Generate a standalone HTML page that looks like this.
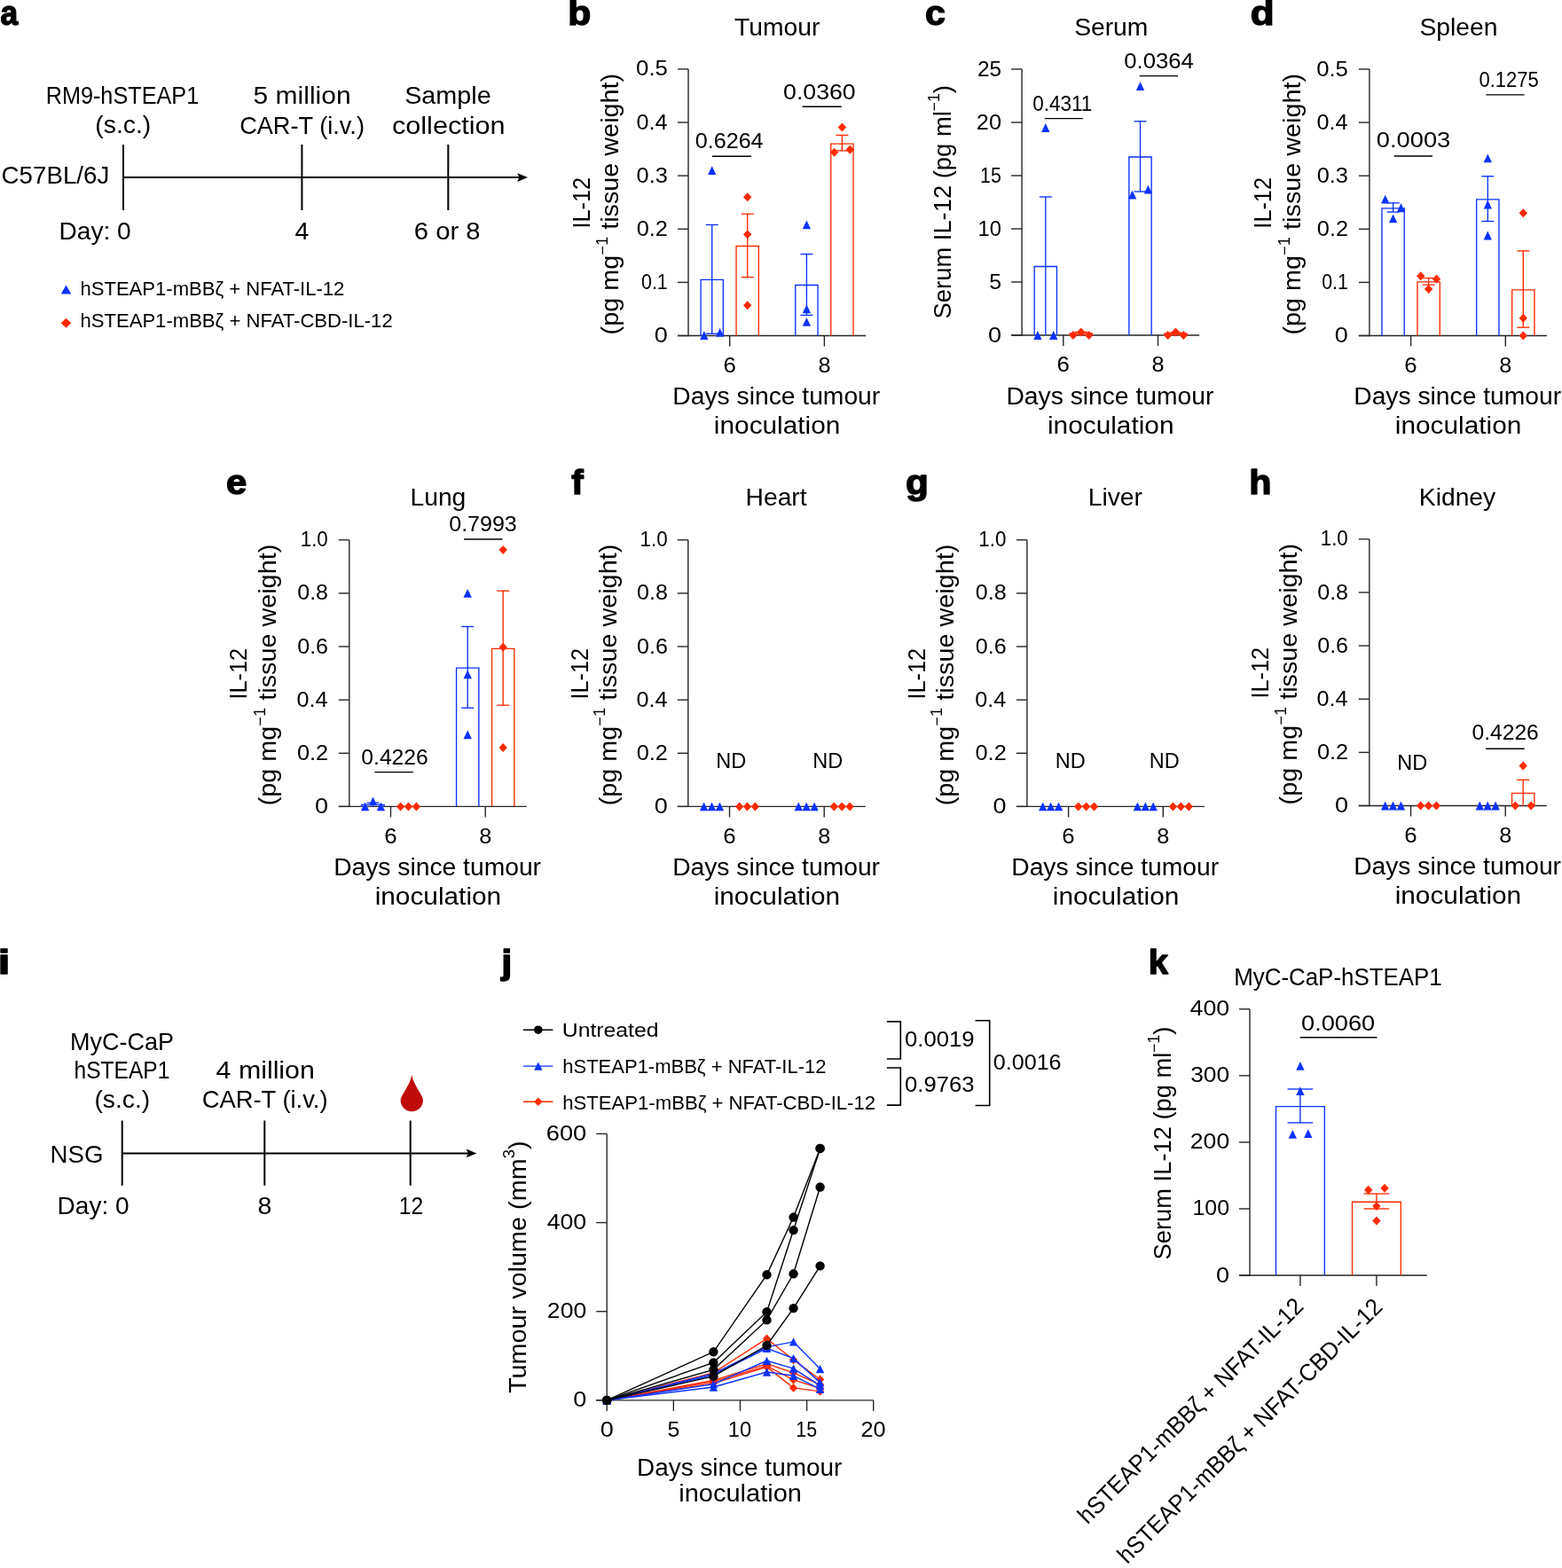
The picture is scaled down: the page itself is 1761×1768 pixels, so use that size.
<!DOCTYPE html>
<html><head><meta charset="utf-8"><style>
html,body{margin:0;padding:0;background:#fff;overflow:hidden;width:1761px;height:1768px;}
svg{display:block;font-family:'Liberation Sans', Arial, sans-serif;}
</style></head><body>
<svg width="1761" height="1768" viewBox="0 0 1761 1768">
<rect width="1761" height="1768" fill="#fff"/>
<text transform="translate(0.46,28.40) scale(0.9193,1)" font-size="38.5" font-weight="bold" fill="#000" stroke="#000" stroke-width="1.4" stroke-linejoin="round">a</text>
<text transform="translate(51.68,117.00) scale(0.8863,1)" font-size="28.5" fill="#000">RM9-hSTEAP1</text>
<text transform="translate(107.30,149.80) scale(0.9951,1)" font-size="28.5" fill="#000">(s.c.)</text>
<text transform="translate(285.60,117.40) scale(1.0521,1)" font-size="28.5" fill="#000">5 million</text>
<text transform="translate(270.14,150.50) scale(0.9534,1)" font-size="28.5" fill="#000">CAR-T (i.v.)</text>
<text transform="translate(456.21,117.40) scale(1.0086,1)" font-size="28.5" fill="#000">Sample</text>
<text transform="translate(441.97,150.50) scale(1.0750,1)" font-size="28.5" fill="#000">collection</text>
<text transform="translate(1.61,207.00) scale(0.9721,1)" font-size="28.5" fill="#000">C57BL/6J</text>
<text transform="translate(66.45,269.60) scale(0.9875,1)" font-size="28.5" fill="#000">Day: 0</text>
<text transform="translate(332.56,269.70) scale(1.0000,1)" font-size="28.5" fill="#000">4</text>
<text transform="translate(466.84,269.70) scale(1.0249,1)" font-size="28.5" fill="#000">6 or 8</text>
<line x1="139.00" y1="200.10" x2="586.00" y2="200.10" stroke="#000" stroke-width="2.0"/>
<polygon points="595.00,200.10 583.20,195.20 585.40,200.10 583.20,205.00" fill="#000"/>
<line x1="139.00" y1="163.00" x2="139.00" y2="237.00" stroke="#000" stroke-width="2.0"/>
<line x1="340.40" y1="163.00" x2="340.40" y2="237.00" stroke="#000" stroke-width="2.0"/>
<line x1="505.30" y1="163.00" x2="505.30" y2="237.00" stroke="#000" stroke-width="2.0"/>
<polygon points="68.75,331.40 80.25,331.40 74.50,321.40" fill="#0a32ff"/>
<text transform="translate(90.47,332.60) scale(1.0031,1)" font-size="22.0" fill="#000">hSTEAP1-mBBζ + NFAT-IL-12</text>
<polygon points="68.75,364.20 74.50,358.70 80.25,364.20 74.50,369.70" fill="#ff2a00"/>
<text transform="translate(90.46,369.40) scale(1.0040,1)" font-size="22.0" fill="#000">hSTEAP1-mBBζ + NFAT-CBD-IL-12</text>
<line x1="776.00" y1="77.90" x2="776.00" y2="379.20" stroke="#262626" stroke-width="1.4"/>
<line x1="764.00" y1="378.50" x2="776.00" y2="378.50" stroke="#262626" stroke-width="1.4"/>
<line x1="764.00" y1="318.38" x2="776.00" y2="318.38" stroke="#262626" stroke-width="1.4"/>
<line x1="764.00" y1="258.26" x2="776.00" y2="258.26" stroke="#262626" stroke-width="1.4"/>
<line x1="764.00" y1="198.14" x2="776.00" y2="198.14" stroke="#262626" stroke-width="1.4"/>
<line x1="764.00" y1="138.02" x2="776.00" y2="138.02" stroke="#262626" stroke-width="1.4"/>
<line x1="764.00" y1="77.90" x2="776.00" y2="77.90" stroke="#262626" stroke-width="1.4"/>
<line x1="764.00" y1="378.50" x2="976.00" y2="378.50" stroke="#262626" stroke-width="1.4"/>
<line x1="822.70" y1="378.50" x2="822.70" y2="390.50" stroke="#262626" stroke-width="1.4"/>
<line x1="929.40" y1="378.50" x2="929.40" y2="390.50" stroke="#262626" stroke-width="1.4"/>
<path d="M790.05,378.50 V315.37 H815.35 V378.50" fill="none" stroke="#0a32ff" stroke-width="1.35"/>
<line x1="802.70" y1="376.28" x2="802.70" y2="253.45" stroke="#0a32ff" stroke-width="1.35"/>
<line x1="795.70" y1="253.45" x2="809.70" y2="253.45" stroke="#0a32ff" stroke-width="1.35"/>
<line x1="795.70" y1="376.28" x2="809.70" y2="376.28" stroke="#0a32ff" stroke-width="1.35"/>
<polygon points="789.10,383.10 798.50,383.10 793.80,373.30" fill="#0a32ff"/>
<polygon points="798.00,197.03 807.40,197.03 802.70,187.23" fill="#0a32ff"/>
<polygon points="806.90,379.79 816.30,379.79 811.60,369.99" fill="#0a32ff"/>
<path d="M830.05,378.50 V277.50 H855.35 V378.50" fill="none" stroke="#ff2a00" stroke-width="1.35"/>
<line x1="842.70" y1="312.55" x2="842.70" y2="241.19" stroke="#ff2a00" stroke-width="1.35"/>
<line x1="835.70" y1="241.19" x2="849.70" y2="241.19" stroke="#ff2a00" stroke-width="1.35"/>
<line x1="835.70" y1="312.55" x2="849.70" y2="312.55" stroke="#ff2a00" stroke-width="1.35"/>
<polygon points="838.00,222.19 842.70,217.19 847.40,222.19 842.70,227.19" fill="#ff2a00"/>
<polygon points="838.00,264.27 842.70,259.27 847.40,264.27 842.70,269.27" fill="#ff2a00"/>
<polygon points="838.00,344.23 842.70,339.23 847.40,344.23 842.70,349.23" fill="#ff2a00"/>
<path d="M896.75,378.50 V321.45 H922.05 V378.50" fill="none" stroke="#0a32ff" stroke-width="1.35"/>
<line x1="909.40" y1="355.41" x2="909.40" y2="286.52" stroke="#0a32ff" stroke-width="1.35"/>
<line x1="902.40" y1="286.52" x2="916.40" y2="286.52" stroke="#0a32ff" stroke-width="1.35"/>
<line x1="902.40" y1="355.41" x2="916.40" y2="355.41" stroke="#0a32ff" stroke-width="1.35"/>
<polygon points="904.70,258.35 914.10,258.35 909.40,248.55" fill="#0a32ff"/>
<polygon points="904.70,353.34 914.10,353.34 909.40,343.54" fill="#0a32ff"/>
<polygon points="904.70,367.77 914.10,367.77 909.40,357.97" fill="#0a32ff"/>
<path d="M936.75,378.50 V162.07 H962.05 V378.50" fill="none" stroke="#ff2a00" stroke-width="1.35"/>
<line x1="949.40" y1="169.88" x2="949.40" y2="152.45" stroke="#ff2a00" stroke-width="1.35"/>
<line x1="942.40" y1="152.45" x2="956.40" y2="152.45" stroke="#ff2a00" stroke-width="1.35"/>
<line x1="942.40" y1="169.88" x2="956.40" y2="169.88" stroke="#ff2a00" stroke-width="1.35"/>
<polygon points="944.70,143.43 949.40,138.43 954.10,143.43 949.40,148.43" fill="#ff2a00"/>
<polygon points="935.80,171.69 940.50,166.69 945.20,171.69 940.50,176.69" fill="#ff2a00"/>
<polygon points="953.60,168.68 958.30,163.68 963.00,168.68 958.30,173.68" fill="#ff2a00"/>
<text transform="translate(737.75,386.00) scale(1.1494,1)" font-size="23.5" fill="#000">0</text>
<text transform="translate(723.05,325.88) scale(0.9095,1)" font-size="23.5" fill="#000">0.1</text>
<text transform="translate(717.71,265.76) scale(1.0784,1)" font-size="23.5" fill="#000">0.2</text>
<text transform="translate(717.61,205.64) scale(1.0776,1)" font-size="23.5" fill="#000">0.3</text>
<text transform="translate(717.42,145.52) scale(1.0718,1)" font-size="23.5" fill="#000">0.4</text>
<text transform="translate(717.10,85.40) scale(1.0938,1)" font-size="23.5" fill="#000">0.5</text>
<text transform="translate(815.41,419.70) scale(1.0981,1)" font-size="23.5" fill="#000">6</text>
<text transform="translate(922.39,419.70) scale(1.0750,1)" font-size="23.5" fill="#000">8</text>
<text transform="translate(758.34,456.20) scale(1.0354,1)" font-size="27.3" fill="#000">Days since tumour</text>
<text transform="translate(804.86,489.10) scale(1.0922,1)" font-size="27.3" fill="#000">inoculation</text>
<text transform="translate(828.11,40.00) scale(1.0100,1)" font-size="28.0" fill="#000">Tumour</text>
<text transform="translate(783.72,167.00) scale(1.0695,1)" font-size="23.5" fill="#000">0.6264</text>
<line x1="803.00" y1="176.20" x2="847.00" y2="176.20" stroke="#000" stroke-width="1.4"/>
<text transform="translate(883.07,112.00) scale(1.1357,1)" font-size="23.5" fill="#000">0.0360</text>
<line x1="904.60" y1="120.30" x2="948.80" y2="120.30" stroke="#000" stroke-width="1.4"/>
<text transform="translate(665.00,255.30) rotate(-90) scale(0.9256,1) translate(-2.46,0)" fill="#000"><tspan font-size="27.3" dy="0.00">IL-12</tspan></text>
<text transform="translate(697.10,375.70) rotate(-90) scale(1.0547,1) translate(-1.64,0)" fill="#000"><tspan font-size="27.3" dy="0.00">(pg mg</tspan><tspan font-size="17.47" dy="-12.56">−1</tspan><tspan font-size="27.3" dy="12.56"> tissue weight)</tspan></text>
<line x1="1152.10" y1="78.00" x2="1152.10" y2="378.70" stroke="#262626" stroke-width="1.4"/>
<line x1="1140.10" y1="378.00" x2="1152.10" y2="378.00" stroke="#262626" stroke-width="1.4"/>
<line x1="1140.10" y1="318.00" x2="1152.10" y2="318.00" stroke="#262626" stroke-width="1.4"/>
<line x1="1140.10" y1="258.00" x2="1152.10" y2="258.00" stroke="#262626" stroke-width="1.4"/>
<line x1="1140.10" y1="198.00" x2="1152.10" y2="198.00" stroke="#262626" stroke-width="1.4"/>
<line x1="1140.10" y1="138.00" x2="1152.10" y2="138.00" stroke="#262626" stroke-width="1.4"/>
<line x1="1140.10" y1="78.00" x2="1152.10" y2="78.00" stroke="#262626" stroke-width="1.4"/>
<line x1="1140.10" y1="378.00" x2="1352.10" y2="378.00" stroke="#262626" stroke-width="1.4"/>
<line x1="1198.80" y1="378.00" x2="1198.80" y2="390.00" stroke="#262626" stroke-width="1.4"/>
<line x1="1305.50" y1="378.00" x2="1305.50" y2="390.00" stroke="#262626" stroke-width="1.4"/>
<path d="M1166.15,378.00 V300.48 H1191.45 V378.00" fill="none" stroke="#0a32ff" stroke-width="1.35"/>
<line x1="1178.80" y1="378.00" x2="1178.80" y2="222.00" stroke="#0a32ff" stroke-width="1.35"/>
<line x1="1171.80" y1="222.00" x2="1185.80" y2="222.00" stroke="#0a32ff" stroke-width="1.35"/>
<polygon points="1165.20,382.90 1174.60,382.90 1169.90,373.10" fill="#0a32ff"/>
<polygon points="1174.10,148.90 1183.50,148.90 1178.80,139.10" fill="#0a32ff"/>
<polygon points="1183.00,382.90 1192.40,382.90 1187.70,373.10" fill="#0a32ff"/>
<path d="M1206.15,378.00 V375.84 H1231.45 V378.00" fill="none" stroke="#ff2a00" stroke-width="1.35"/>
<line x1="1218.80" y1="377.40" x2="1218.80" y2="374.40" stroke="#ff2a00" stroke-width="1.35"/>
<line x1="1211.80" y1="374.40" x2="1225.80" y2="374.40" stroke="#ff2a00" stroke-width="1.35"/>
<line x1="1211.80" y1="377.40" x2="1225.80" y2="377.40" stroke="#ff2a00" stroke-width="1.35"/>
<polygon points="1205.20,378.00 1209.90,373.00 1214.60,378.00 1209.90,383.00" fill="#ff2a00"/>
<polygon points="1214.10,374.40 1218.80,369.40 1223.50,374.40 1218.80,379.40" fill="#ff2a00"/>
<polygon points="1223.00,378.00 1227.70,373.00 1232.40,378.00 1227.70,383.00" fill="#ff2a00"/>
<path d="M1272.85,378.00 V177.00 H1298.15 V378.00" fill="none" stroke="#0a32ff" stroke-width="1.35"/>
<line x1="1285.50" y1="216.00" x2="1285.50" y2="136.80" stroke="#0a32ff" stroke-width="1.35"/>
<line x1="1278.50" y1="136.80" x2="1292.50" y2="136.80" stroke="#0a32ff" stroke-width="1.35"/>
<line x1="1278.50" y1="216.00" x2="1292.50" y2="216.00" stroke="#0a32ff" stroke-width="1.35"/>
<polygon points="1271.90,224.50 1281.30,224.50 1276.60,214.70" fill="#0a32ff"/>
<polygon points="1280.80,102.10 1290.20,102.10 1285.50,92.30" fill="#0a32ff"/>
<polygon points="1289.70,218.50 1299.10,218.50 1294.40,208.70" fill="#0a32ff"/>
<path d="M1312.85,378.00 V376.20 H1338.15 V378.00" fill="none" stroke="#ff2a00" stroke-width="1.35"/>
<line x1="1325.50" y1="377.40" x2="1325.50" y2="375.00" stroke="#ff2a00" stroke-width="1.35"/>
<line x1="1318.50" y1="375.00" x2="1332.50" y2="375.00" stroke="#ff2a00" stroke-width="1.35"/>
<line x1="1318.50" y1="377.40" x2="1332.50" y2="377.40" stroke="#ff2a00" stroke-width="1.35"/>
<polygon points="1311.90,378.00 1316.60,373.00 1321.30,378.00 1316.60,383.00" fill="#ff2a00"/>
<polygon points="1320.80,374.40 1325.50,369.40 1330.20,374.40 1325.50,379.40" fill="#ff2a00"/>
<polygon points="1329.70,378.00 1334.40,373.00 1339.10,378.00 1334.40,383.00" fill="#ff2a00"/>
<text transform="translate(1113.95,385.50) scale(1.1494,1)" font-size="23.5" fill="#000">0</text>
<text transform="translate(1115.21,325.50) scale(1.0571,1)" font-size="23.5" fill="#000">5</text>
<text transform="translate(1102.52,265.50) scale(1.0085,1)" font-size="23.5" fill="#000">10</text>
<text transform="translate(1105.09,205.50) scale(0.9109,1)" font-size="23.5" fill="#000">15</text>
<text transform="translate(1100.84,145.50) scale(1.0752,1)" font-size="23.5" fill="#000">20</text>
<text transform="translate(1101.98,85.50) scale(1.0346,1)" font-size="23.5" fill="#000">25</text>
<text transform="translate(1191.51,419.20) scale(1.0981,1)" font-size="23.5" fill="#000">6</text>
<text transform="translate(1298.49,419.20) scale(1.0750,1)" font-size="23.5" fill="#000">8</text>
<text transform="translate(1134.44,455.70) scale(1.0354,1)" font-size="27.3" fill="#000">Days since tumour</text>
<text transform="translate(1180.96,488.60) scale(1.0922,1)" font-size="27.3" fill="#000">inoculation</text>
<text transform="translate(1211.14,40.00) scale(1.0100,1)" font-size="28.0" fill="#000">Serum</text>
<text transform="translate(1164.21,125.00) scale(0.9580,1)" font-size="23.5" fill="#000">0.4311</text>
<line x1="1177.70" y1="133.60" x2="1220.80" y2="133.60" stroke="#000" stroke-width="1.4"/>
<text transform="translate(1267.30,77.00) scale(1.0936,1)" font-size="23.5" fill="#000">0.0364</text>
<line x1="1284.80" y1="85.60" x2="1328.00" y2="85.60" stroke="#000" stroke-width="1.4"/>
<text transform="translate(1071.80,358.20) rotate(-90) scale(1.0029,1) translate(-1.23,0)" fill="#000"><tspan font-size="27.3" dy="0.00">Serum IL-12 (pg ml</tspan><tspan font-size="17.47" dy="-12.56">−1</tspan><tspan font-size="27.3" dy="12.56">)</tspan></text>
<line x1="1543.90" y1="78.00" x2="1543.90" y2="379.20" stroke="#262626" stroke-width="1.4"/>
<line x1="1531.90" y1="378.50" x2="1543.90" y2="378.50" stroke="#262626" stroke-width="1.4"/>
<line x1="1531.90" y1="318.40" x2="1543.90" y2="318.40" stroke="#262626" stroke-width="1.4"/>
<line x1="1531.90" y1="258.30" x2="1543.90" y2="258.30" stroke="#262626" stroke-width="1.4"/>
<line x1="1531.90" y1="198.20" x2="1543.90" y2="198.20" stroke="#262626" stroke-width="1.4"/>
<line x1="1531.90" y1="138.10" x2="1543.90" y2="138.10" stroke="#262626" stroke-width="1.4"/>
<line x1="1531.90" y1="78.00" x2="1543.90" y2="78.00" stroke="#262626" stroke-width="1.4"/>
<line x1="1531.90" y1="378.50" x2="1743.90" y2="378.50" stroke="#262626" stroke-width="1.4"/>
<line x1="1590.60" y1="378.50" x2="1590.60" y2="390.50" stroke="#262626" stroke-width="1.4"/>
<line x1="1697.30" y1="378.50" x2="1697.30" y2="390.50" stroke="#262626" stroke-width="1.4"/>
<path d="M1557.95,378.50 V234.86 H1583.25 V378.50" fill="none" stroke="#0a32ff" stroke-width="1.35"/>
<line x1="1570.60" y1="239.07" x2="1570.60" y2="228.85" stroke="#0a32ff" stroke-width="1.35"/>
<line x1="1563.60" y1="228.85" x2="1577.60" y2="228.85" stroke="#0a32ff" stroke-width="1.35"/>
<line x1="1563.60" y1="239.07" x2="1577.60" y2="239.07" stroke="#0a32ff" stroke-width="1.35"/>
<polygon points="1557.00,229.54 1566.40,229.54 1561.70,219.74" fill="#0a32ff"/>
<polygon points="1565.90,251.18 1575.30,251.18 1570.60,241.38" fill="#0a32ff"/>
<polygon points="1574.80,239.16 1584.20,239.16 1579.50,229.36" fill="#0a32ff"/>
<path d="M1597.95,378.50 V317.80 H1623.25 V378.50" fill="none" stroke="#ff2a00" stroke-width="1.35"/>
<line x1="1610.60" y1="321.10" x2="1610.60" y2="313.59" stroke="#ff2a00" stroke-width="1.35"/>
<line x1="1603.60" y1="313.59" x2="1617.60" y2="313.59" stroke="#ff2a00" stroke-width="1.35"/>
<line x1="1603.60" y1="321.10" x2="1617.60" y2="321.10" stroke="#ff2a00" stroke-width="1.35"/>
<polygon points="1597.00,311.19 1601.70,306.19 1606.40,311.19 1601.70,316.19" fill="#ff2a00"/>
<polygon points="1605.90,325.97 1610.60,320.97 1615.30,325.97 1610.60,330.97" fill="#ff2a00"/>
<polygon points="1614.80,314.79 1619.50,309.79 1624.20,314.79 1619.50,319.79" fill="#ff2a00"/>
<path d="M1664.65,378.50 V224.88 H1689.95 V378.50" fill="none" stroke="#0a32ff" stroke-width="1.35"/>
<line x1="1677.30" y1="249.53" x2="1677.30" y2="198.80" stroke="#0a32ff" stroke-width="1.35"/>
<line x1="1670.30" y1="198.80" x2="1684.30" y2="198.80" stroke="#0a32ff" stroke-width="1.35"/>
<line x1="1670.30" y1="249.53" x2="1684.30" y2="249.53" stroke="#0a32ff" stroke-width="1.35"/>
<polygon points="1672.60,183.27 1682.00,183.27 1677.30,173.47" fill="#0a32ff"/>
<polygon points="1672.60,235.55 1682.00,235.55 1677.30,225.75" fill="#0a32ff"/>
<polygon points="1672.60,270.41 1682.00,270.41 1677.30,260.61" fill="#0a32ff"/>
<path d="M1704.65,378.50 V326.81 H1729.95 V378.50" fill="none" stroke="#ff2a00" stroke-width="1.35"/>
<line x1="1717.30" y1="369.18" x2="1717.30" y2="282.94" stroke="#ff2a00" stroke-width="1.35"/>
<line x1="1710.30" y1="282.94" x2="1724.30" y2="282.94" stroke="#ff2a00" stroke-width="1.35"/>
<line x1="1710.30" y1="369.18" x2="1724.30" y2="369.18" stroke="#ff2a00" stroke-width="1.35"/>
<polygon points="1712.60,240.27 1717.30,235.27 1722.00,240.27 1717.30,245.27" fill="#ff2a00"/>
<polygon points="1712.60,358.67 1717.30,353.67 1722.00,358.67 1717.30,363.67" fill="#ff2a00"/>
<polygon points="1712.60,378.50 1717.30,373.50 1722.00,378.50 1717.30,383.50" fill="#ff2a00"/>
<text transform="translate(1504.85,386.00) scale(1.1494,1)" font-size="23.5" fill="#000">0</text>
<text transform="translate(1490.15,325.90) scale(0.9095,1)" font-size="23.5" fill="#000">0.1</text>
<text transform="translate(1484.81,265.80) scale(1.0784,1)" font-size="23.5" fill="#000">0.2</text>
<text transform="translate(1484.71,205.70) scale(1.0776,1)" font-size="23.5" fill="#000">0.3</text>
<text transform="translate(1484.52,145.60) scale(1.0718,1)" font-size="23.5" fill="#000">0.4</text>
<text transform="translate(1484.20,85.50) scale(1.0938,1)" font-size="23.5" fill="#000">0.5</text>
<text transform="translate(1583.31,419.70) scale(1.0981,1)" font-size="23.5" fill="#000">6</text>
<text transform="translate(1690.29,419.70) scale(1.0750,1)" font-size="23.5" fill="#000">8</text>
<text transform="translate(1526.24,456.20) scale(1.0354,1)" font-size="27.3" fill="#000">Days since tumour</text>
<text transform="translate(1572.76,489.10) scale(1.0922,1)" font-size="27.3" fill="#000">inoculation</text>
<text transform="translate(1600.47,40.00) scale(1.0100,1)" font-size="28.0" fill="#000">Spleen</text>
<text transform="translate(1551.85,166.30) scale(1.1604,1)" font-size="23.5" fill="#000">0.0003</text>
<line x1="1571.70" y1="176.00" x2="1615.00" y2="176.00" stroke="#000" stroke-width="1.4"/>
<text transform="translate(1667.43,97.60) scale(0.9352,1)" font-size="23.5" fill="#000">0.1275</text>
<line x1="1675.20" y1="106.90" x2="1718.50" y2="106.90" stroke="#000" stroke-width="1.4"/>
<text transform="translate(1433.00,255.35) rotate(-90) scale(0.9256,1) translate(-2.46,0)" fill="#000"><tspan font-size="27.3" dy="0.00">IL-12</tspan></text>
<text transform="translate(1466.20,375.75) rotate(-90) scale(1.0547,1) translate(-1.64,0)" fill="#000"><tspan font-size="27.3" dy="0.00">(pg mg</tspan><tspan font-size="17.47" dy="-12.56">−1</tspan><tspan font-size="27.3" dy="12.56"> tissue weight)</tspan></text>
<line x1="393.80" y1="608.80" x2="393.80" y2="910.10" stroke="#262626" stroke-width="1.4"/>
<line x1="381.80" y1="909.40" x2="393.80" y2="909.40" stroke="#262626" stroke-width="1.4"/>
<line x1="381.80" y1="849.28" x2="393.80" y2="849.28" stroke="#262626" stroke-width="1.4"/>
<line x1="381.80" y1="789.16" x2="393.80" y2="789.16" stroke="#262626" stroke-width="1.4"/>
<line x1="381.80" y1="729.04" x2="393.80" y2="729.04" stroke="#262626" stroke-width="1.4"/>
<line x1="381.80" y1="668.92" x2="393.80" y2="668.92" stroke="#262626" stroke-width="1.4"/>
<line x1="381.80" y1="608.80" x2="393.80" y2="608.80" stroke="#262626" stroke-width="1.4"/>
<line x1="381.80" y1="909.40" x2="593.80" y2="909.40" stroke="#262626" stroke-width="1.4"/>
<line x1="440.50" y1="909.40" x2="440.50" y2="921.40" stroke="#262626" stroke-width="1.4"/>
<line x1="547.20" y1="909.40" x2="547.20" y2="921.40" stroke="#262626" stroke-width="1.4"/>
<path d="M407.85,909.40 V907.30 H433.15 V909.40" fill="none" stroke="#0a32ff" stroke-width="1.35"/>
<line x1="420.50" y1="909.40" x2="420.50" y2="905.19" stroke="#0a32ff" stroke-width="1.35"/>
<line x1="413.50" y1="905.19" x2="427.50" y2="905.19" stroke="#0a32ff" stroke-width="1.35"/>
<polygon points="406.90,914.30 416.30,914.30 411.60,904.50" fill="#0a32ff"/>
<polygon points="415.80,908.29 425.20,908.29 420.50,898.49" fill="#0a32ff"/>
<polygon points="424.70,914.30 434.10,914.30 429.40,904.50" fill="#0a32ff"/>
<polygon points="446.90,909.40 451.60,904.40 456.30,909.40 451.60,914.40" fill="#ff2a00"/>
<polygon points="455.80,909.40 460.50,904.40 465.20,909.40 460.50,914.40" fill="#ff2a00"/>
<polygon points="464.70,909.40 469.40,904.40 474.10,909.40 469.40,914.40" fill="#ff2a00"/>
<path d="M514.55,909.40 V753.09 H539.85 V909.40" fill="none" stroke="#0a32ff" stroke-width="1.35"/>
<line x1="527.20" y1="798.18" x2="527.20" y2="706.49" stroke="#0a32ff" stroke-width="1.35"/>
<line x1="520.20" y1="706.49" x2="534.20" y2="706.49" stroke="#0a32ff" stroke-width="1.35"/>
<line x1="520.20" y1="798.18" x2="534.20" y2="798.18" stroke="#0a32ff" stroke-width="1.35"/>
<polygon points="522.50,673.82 531.90,673.82 527.20,664.02" fill="#0a32ff"/>
<polygon points="522.50,765.20 531.90,765.20 527.20,755.40" fill="#0a32ff"/>
<polygon points="522.50,833.14 531.90,833.14 527.20,823.34" fill="#0a32ff"/>
<path d="M554.55,909.40 V731.44 H579.85 V909.40" fill="none" stroke="#ff2a00" stroke-width="1.35"/>
<line x1="567.20" y1="795.17" x2="567.20" y2="666.21" stroke="#ff2a00" stroke-width="1.35"/>
<line x1="560.20" y1="666.21" x2="574.20" y2="666.21" stroke="#ff2a00" stroke-width="1.35"/>
<line x1="560.20" y1="795.17" x2="574.20" y2="795.17" stroke="#ff2a00" stroke-width="1.35"/>
<polygon points="562.50,619.92 567.20,614.92 571.90,619.92 567.20,624.92" fill="#ff2a00"/>
<polygon points="562.50,729.64 567.20,724.64 571.90,729.64 567.20,734.64" fill="#ff2a00"/>
<polygon points="562.50,842.97 567.20,837.97 571.90,842.97 567.20,847.97" fill="#ff2a00"/>
<text transform="translate(354.95,916.90) scale(1.1494,1)" font-size="23.5" fill="#000">0</text>
<text transform="translate(334.91,856.78) scale(1.0784,1)" font-size="23.5" fill="#000">0.2</text>
<text transform="translate(334.62,796.66) scale(1.0718,1)" font-size="23.5" fill="#000">0.4</text>
<text transform="translate(335.22,736.54) scale(1.0646,1)" font-size="23.5" fill="#000">0.6</text>
<text transform="translate(335.22,676.42) scale(1.0646,1)" font-size="23.5" fill="#000">0.8</text>
<text transform="translate(338.72,616.30) scale(0.9508,1)" font-size="23.5" fill="#000">1.0</text>
<text transform="translate(433.21,950.60) scale(1.0981,1)" font-size="23.5" fill="#000">6</text>
<text transform="translate(540.19,950.60) scale(1.0750,1)" font-size="23.5" fill="#000">8</text>
<text transform="translate(376.14,987.10) scale(1.0354,1)" font-size="27.3" fill="#000">Days since tumour</text>
<text transform="translate(422.66,1020.00) scale(1.0922,1)" font-size="27.3" fill="#000">inoculation</text>
<text transform="translate(462.46,569.90) scale(1.0100,1)" font-size="28.0" fill="#000">Lung</text>
<text transform="translate(407.34,861.60) scale(1.0492,1)" font-size="23.5" fill="#000">0.4226</text>
<line x1="422.40" y1="870.60" x2="465.90" y2="870.60" stroke="#000" stroke-width="1.4"/>
<text transform="translate(506.22,599.00) scale(1.0649,1)" font-size="23.5" fill="#000">0.7993</text>
<line x1="523.00" y1="608.00" x2="566.50" y2="608.00" stroke="#000" stroke-width="1.4"/>
<text transform="translate(277.70,786.20) rotate(-90) scale(0.9256,1) translate(-2.46,0)" fill="#000"><tspan font-size="27.3" dy="0.00">IL-12</tspan></text>
<text transform="translate(311.10,906.60) rotate(-90) scale(1.0547,1) translate(-1.64,0)" fill="#000"><tspan font-size="27.3" dy="0.00">(pg mg</tspan><tspan font-size="17.47" dy="-12.56">−1</tspan><tspan font-size="27.3" dy="12.56"> tissue weight)</tspan></text>
<line x1="775.80" y1="608.80" x2="775.80" y2="910.10" stroke="#262626" stroke-width="1.4"/>
<line x1="763.80" y1="909.40" x2="775.80" y2="909.40" stroke="#262626" stroke-width="1.4"/>
<line x1="763.80" y1="849.28" x2="775.80" y2="849.28" stroke="#262626" stroke-width="1.4"/>
<line x1="763.80" y1="789.16" x2="775.80" y2="789.16" stroke="#262626" stroke-width="1.4"/>
<line x1="763.80" y1="729.04" x2="775.80" y2="729.04" stroke="#262626" stroke-width="1.4"/>
<line x1="763.80" y1="668.92" x2="775.80" y2="668.92" stroke="#262626" stroke-width="1.4"/>
<line x1="763.80" y1="608.80" x2="775.80" y2="608.80" stroke="#262626" stroke-width="1.4"/>
<line x1="763.80" y1="909.40" x2="975.80" y2="909.40" stroke="#262626" stroke-width="1.4"/>
<line x1="822.50" y1="909.40" x2="822.50" y2="921.40" stroke="#262626" stroke-width="1.4"/>
<line x1="929.20" y1="909.40" x2="929.20" y2="921.40" stroke="#262626" stroke-width="1.4"/>
<polygon points="788.90,914.30 798.30,914.30 793.60,904.50" fill="#0a32ff"/>
<polygon points="797.80,914.30 807.20,914.30 802.50,904.50" fill="#0a32ff"/>
<polygon points="806.70,914.30 816.10,914.30 811.40,904.50" fill="#0a32ff"/>
<polygon points="828.90,909.40 833.60,904.40 838.30,909.40 833.60,914.40" fill="#ff2a00"/>
<polygon points="837.80,909.40 842.50,904.40 847.20,909.40 842.50,914.40" fill="#ff2a00"/>
<polygon points="846.70,909.40 851.40,904.40 856.10,909.40 851.40,914.40" fill="#ff2a00"/>
<polygon points="895.60,914.30 905.00,914.30 900.30,904.50" fill="#0a32ff"/>
<polygon points="904.50,914.30 913.90,914.30 909.20,904.50" fill="#0a32ff"/>
<polygon points="913.40,914.30 922.80,914.30 918.10,904.50" fill="#0a32ff"/>
<polygon points="935.60,909.40 940.30,904.40 945.00,909.40 940.30,914.40" fill="#ff2a00"/>
<polygon points="944.50,909.40 949.20,904.40 953.90,909.40 949.20,914.40" fill="#ff2a00"/>
<polygon points="953.40,909.40 958.10,904.40 962.80,909.40 958.10,914.40" fill="#ff2a00"/>
<text transform="translate(737.75,916.90) scale(1.1494,1)" font-size="23.5" fill="#000">0</text>
<text transform="translate(717.71,856.78) scale(1.0784,1)" font-size="23.5" fill="#000">0.2</text>
<text transform="translate(717.42,796.66) scale(1.0718,1)" font-size="23.5" fill="#000">0.4</text>
<text transform="translate(718.02,736.54) scale(1.0646,1)" font-size="23.5" fill="#000">0.6</text>
<text transform="translate(718.02,676.42) scale(1.0646,1)" font-size="23.5" fill="#000">0.8</text>
<text transform="translate(721.52,616.30) scale(0.9508,1)" font-size="23.5" fill="#000">1.0</text>
<text transform="translate(815.21,950.60) scale(1.0981,1)" font-size="23.5" fill="#000">6</text>
<text transform="translate(922.19,950.60) scale(1.0750,1)" font-size="23.5" fill="#000">8</text>
<text transform="translate(758.14,987.10) scale(1.0354,1)" font-size="27.3" fill="#000">Days since tumour</text>
<text transform="translate(804.66,1020.00) scale(1.0922,1)" font-size="27.3" fill="#000">inoculation</text>
<text transform="translate(840.50,569.90) scale(1.0100,1)" font-size="28.0" fill="#000">Heart</text>
<text transform="translate(807.37,865.60) scale(1.0000,1)" font-size="23.5" fill="#000">ND</text>
<text transform="translate(916.17,865.60) scale(1.0000,1)" font-size="23.5" fill="#000">ND</text>
<text transform="translate(662.90,786.20) rotate(-90) scale(0.9256,1) translate(-2.46,0)" fill="#000"><tspan font-size="27.3" dy="0.00">IL-12</tspan></text>
<text transform="translate(695.00,906.60) rotate(-90) scale(1.0547,1) translate(-1.64,0)" fill="#000"><tspan font-size="27.3" dy="0.00">(pg mg</tspan><tspan font-size="17.47" dy="-12.56">−1</tspan><tspan font-size="27.3" dy="12.56"> tissue weight)</tspan></text>
<line x1="1157.90" y1="608.80" x2="1157.90" y2="910.10" stroke="#262626" stroke-width="1.4"/>
<line x1="1145.90" y1="909.40" x2="1157.90" y2="909.40" stroke="#262626" stroke-width="1.4"/>
<line x1="1145.90" y1="849.28" x2="1157.90" y2="849.28" stroke="#262626" stroke-width="1.4"/>
<line x1="1145.90" y1="789.16" x2="1157.90" y2="789.16" stroke="#262626" stroke-width="1.4"/>
<line x1="1145.90" y1="729.04" x2="1157.90" y2="729.04" stroke="#262626" stroke-width="1.4"/>
<line x1="1145.90" y1="668.92" x2="1157.90" y2="668.92" stroke="#262626" stroke-width="1.4"/>
<line x1="1145.90" y1="608.80" x2="1157.90" y2="608.80" stroke="#262626" stroke-width="1.4"/>
<line x1="1145.90" y1="909.40" x2="1357.90" y2="909.40" stroke="#262626" stroke-width="1.4"/>
<line x1="1204.60" y1="909.40" x2="1204.60" y2="921.40" stroke="#262626" stroke-width="1.4"/>
<line x1="1311.30" y1="909.40" x2="1311.30" y2="921.40" stroke="#262626" stroke-width="1.4"/>
<polygon points="1171.00,914.30 1180.40,914.30 1175.70,904.50" fill="#0a32ff"/>
<polygon points="1179.90,914.30 1189.30,914.30 1184.60,904.50" fill="#0a32ff"/>
<polygon points="1188.80,914.30 1198.20,914.30 1193.50,904.50" fill="#0a32ff"/>
<polygon points="1211.00,909.40 1215.70,904.40 1220.40,909.40 1215.70,914.40" fill="#ff2a00"/>
<polygon points="1219.90,909.40 1224.60,904.40 1229.30,909.40 1224.60,914.40" fill="#ff2a00"/>
<polygon points="1228.80,909.40 1233.50,904.40 1238.20,909.40 1233.50,914.40" fill="#ff2a00"/>
<polygon points="1277.70,914.30 1287.10,914.30 1282.40,904.50" fill="#0a32ff"/>
<polygon points="1286.60,914.30 1296.00,914.30 1291.30,904.50" fill="#0a32ff"/>
<polygon points="1295.50,914.30 1304.90,914.30 1300.20,904.50" fill="#0a32ff"/>
<polygon points="1317.70,909.40 1322.40,904.40 1327.10,909.40 1322.40,914.40" fill="#ff2a00"/>
<polygon points="1326.60,909.40 1331.30,904.40 1336.00,909.40 1331.30,914.40" fill="#ff2a00"/>
<polygon points="1335.50,909.40 1340.20,904.40 1344.90,909.40 1340.20,914.40" fill="#ff2a00"/>
<text transform="translate(1119.55,916.90) scale(1.1494,1)" font-size="23.5" fill="#000">0</text>
<text transform="translate(1099.51,856.78) scale(1.0784,1)" font-size="23.5" fill="#000">0.2</text>
<text transform="translate(1099.22,796.66) scale(1.0718,1)" font-size="23.5" fill="#000">0.4</text>
<text transform="translate(1099.82,736.54) scale(1.0646,1)" font-size="23.5" fill="#000">0.6</text>
<text transform="translate(1099.82,676.42) scale(1.0646,1)" font-size="23.5" fill="#000">0.8</text>
<text transform="translate(1103.32,616.30) scale(0.9508,1)" font-size="23.5" fill="#000">1.0</text>
<text transform="translate(1197.31,950.60) scale(1.0981,1)" font-size="23.5" fill="#000">6</text>
<text transform="translate(1304.29,950.60) scale(1.0750,1)" font-size="23.5" fill="#000">8</text>
<text transform="translate(1140.24,987.10) scale(1.0354,1)" font-size="27.3" fill="#000">Days since tumour</text>
<text transform="translate(1186.76,1020.00) scale(1.0922,1)" font-size="27.3" fill="#000">inoculation</text>
<text transform="translate(1226.70,569.90) scale(1.0100,1)" font-size="28.0" fill="#000">Liver</text>
<text transform="translate(1189.67,865.60) scale(1.0000,1)" font-size="23.5" fill="#000">ND</text>
<text transform="translate(1295.67,865.60) scale(1.0000,1)" font-size="23.5" fill="#000">ND</text>
<text transform="translate(1042.70,786.20) rotate(-90) scale(0.9256,1) translate(-2.46,0)" fill="#000"><tspan font-size="27.3" dy="0.00">IL-12</tspan></text>
<text transform="translate(1075.00,906.60) rotate(-90) scale(1.0547,1) translate(-1.64,0)" fill="#000"><tspan font-size="27.3" dy="0.00">(pg mg</tspan><tspan font-size="17.47" dy="-12.56">−1</tspan><tspan font-size="27.3" dy="12.56"> tissue weight)</tspan></text>
<line x1="1543.80" y1="607.90" x2="1543.80" y2="909.20" stroke="#262626" stroke-width="1.4"/>
<line x1="1531.80" y1="908.50" x2="1543.80" y2="908.50" stroke="#262626" stroke-width="1.4"/>
<line x1="1531.80" y1="848.38" x2="1543.80" y2="848.38" stroke="#262626" stroke-width="1.4"/>
<line x1="1531.80" y1="788.26" x2="1543.80" y2="788.26" stroke="#262626" stroke-width="1.4"/>
<line x1="1531.80" y1="728.14" x2="1543.80" y2="728.14" stroke="#262626" stroke-width="1.4"/>
<line x1="1531.80" y1="668.02" x2="1543.80" y2="668.02" stroke="#262626" stroke-width="1.4"/>
<line x1="1531.80" y1="607.90" x2="1543.80" y2="607.90" stroke="#262626" stroke-width="1.4"/>
<line x1="1531.80" y1="908.50" x2="1743.80" y2="908.50" stroke="#262626" stroke-width="1.4"/>
<line x1="1590.50" y1="908.50" x2="1590.50" y2="920.50" stroke="#262626" stroke-width="1.4"/>
<line x1="1697.20" y1="908.50" x2="1697.20" y2="920.50" stroke="#262626" stroke-width="1.4"/>
<polygon points="1556.90,913.40 1566.30,913.40 1561.60,903.60" fill="#0a32ff"/>
<polygon points="1565.80,913.40 1575.20,913.40 1570.50,903.60" fill="#0a32ff"/>
<polygon points="1574.70,913.40 1584.10,913.40 1579.40,903.60" fill="#0a32ff"/>
<polygon points="1596.90,908.50 1601.60,903.50 1606.30,908.50 1601.60,913.50" fill="#ff2a00"/>
<polygon points="1605.80,908.50 1610.50,903.50 1615.20,908.50 1610.50,913.50" fill="#ff2a00"/>
<polygon points="1614.70,908.50 1619.40,903.50 1624.10,908.50 1619.40,913.50" fill="#ff2a00"/>
<polygon points="1663.60,913.40 1673.00,913.40 1668.30,903.60" fill="#0a32ff"/>
<polygon points="1672.50,913.40 1681.90,913.40 1677.20,903.60" fill="#0a32ff"/>
<polygon points="1681.40,913.40 1690.80,913.40 1686.10,903.60" fill="#0a32ff"/>
<path d="M1704.55,908.50 V894.37 H1729.85 V908.50" fill="none" stroke="#ff2a00" stroke-width="1.35"/>
<line x1="1717.20" y1="908.50" x2="1717.20" y2="879.34" stroke="#ff2a00" stroke-width="1.35"/>
<line x1="1710.20" y1="879.34" x2="1724.20" y2="879.34" stroke="#ff2a00" stroke-width="1.35"/>
<polygon points="1703.60,908.50 1708.30,903.50 1713.00,908.50 1708.30,913.50" fill="#ff2a00"/>
<polygon points="1712.50,863.41 1717.20,858.41 1721.90,863.41 1717.20,868.41" fill="#ff2a00"/>
<polygon points="1721.40,908.50 1726.10,903.50 1730.80,908.50 1726.10,913.50" fill="#ff2a00"/>
<text transform="translate(1504.95,916.00) scale(1.1494,1)" font-size="23.5" fill="#000">0</text>
<text transform="translate(1484.91,855.88) scale(1.0784,1)" font-size="23.5" fill="#000">0.2</text>
<text transform="translate(1484.62,795.76) scale(1.0718,1)" font-size="23.5" fill="#000">0.4</text>
<text transform="translate(1485.22,735.64) scale(1.0646,1)" font-size="23.5" fill="#000">0.6</text>
<text transform="translate(1485.22,675.52) scale(1.0646,1)" font-size="23.5" fill="#000">0.8</text>
<text transform="translate(1488.72,615.40) scale(0.9508,1)" font-size="23.5" fill="#000">1.0</text>
<text transform="translate(1583.21,949.70) scale(1.0981,1)" font-size="23.5" fill="#000">6</text>
<text transform="translate(1690.19,949.70) scale(1.0750,1)" font-size="23.5" fill="#000">8</text>
<text transform="translate(1526.14,986.20) scale(1.0354,1)" font-size="27.3" fill="#000">Days since tumour</text>
<text transform="translate(1572.66,1019.10) scale(1.0922,1)" font-size="27.3" fill="#000">inoculation</text>
<text transform="translate(1599.80,569.90) scale(1.0100,1)" font-size="28.0" fill="#000">Kidney</text>
<text transform="translate(1659.54,834.20) scale(1.0478,1)" font-size="23.5" fill="#000">0.4226</text>
<line x1="1675.00" y1="844.20" x2="1718.60" y2="844.20" stroke="#000" stroke-width="1.4"/>
<text transform="translate(1575.27,867.90) scale(1.0000,1)" font-size="23.5" fill="#000">ND</text>
<text transform="translate(1430.00,785.30) rotate(-90) scale(0.9256,1) translate(-2.46,0)" fill="#000"><tspan font-size="27.3" dy="0.00">IL-12</tspan></text>
<text transform="translate(1462.10,905.70) rotate(-90) scale(1.0547,1) translate(-1.64,0)" fill="#000"><tspan font-size="27.3" dy="0.00">(pg mg</tspan><tspan font-size="17.47" dy="-12.56">−1</tspan><tspan font-size="27.3" dy="12.56"> tissue weight)</tspan></text>
<text transform="translate(640.30,28.40) scale(1.1083,1)" font-size="38.5" font-weight="bold" fill="#000" stroke="#000" stroke-width="1.4" stroke-linejoin="round">b</text>
<text transform="translate(1042.91,28.10) scale(1.0656,1)" font-size="38.5" font-weight="bold" fill="#000" stroke="#000" stroke-width="1.4" stroke-linejoin="round">c</text>
<text transform="translate(1409.74,28.10) scale(1.1419,1)" font-size="38.5" font-weight="bold" fill="#000" stroke="#000" stroke-width="1.4" stroke-linejoin="round">d</text>
<text transform="translate(255.00,557.40) scale(1.0856,1)" font-size="38.5" font-weight="bold" fill="#000" stroke="#000" stroke-width="1.4" stroke-linejoin="round">e</text>
<text transform="translate(644.23,557.40) scale(1.0496,1)" font-size="38.5" font-weight="bold" fill="#000" stroke="#000" stroke-width="1.4" stroke-linejoin="round">f</text>
<text transform="translate(1020.88,557.40) scale(1.0987,1)" font-size="38.5" font-weight="bold" fill="#000" stroke="#000" stroke-width="1.4" stroke-linejoin="round">g</text>
<text transform="translate(1408.37,557.40) scale(1.0711,1)" font-size="38.5" font-weight="bold" fill="#000" stroke="#000" stroke-width="1.4" stroke-linejoin="round">h</text>
<text transform="translate(-2.30,1098.20) scale(1.2746,1)" font-size="38.5" font-weight="bold" fill="#000" stroke="#000" stroke-width="1.4" stroke-linejoin="round">i</text>
<text transform="translate(78.94,1184.00) scale(0.9482,1)" font-size="28.5" fill="#000">MyC-CaP</text>
<text transform="translate(83.61,1215.80) scale(0.8608,1)" font-size="28.5" fill="#000">hSTEAP1</text>
<text transform="translate(106.40,1248.60) scale(0.9918,1)" font-size="28.5" fill="#000">(s.c.)</text>
<text transform="translate(243.59,1215.80) scale(1.0649,1)" font-size="28.5" fill="#000">4 million</text>
<text transform="translate(227.63,1249.20) scale(0.9610,1)" font-size="28.5" fill="#000">CAR-T (i.v.)</text>
<text transform="translate(56.59,1311.20) scale(0.9699,1)" font-size="28.5" fill="#000">NSG</text>
<text transform="translate(64.55,1369.10) scale(0.9850,1)" font-size="28.5" fill="#000">Day: 0</text>
<text transform="translate(290.39,1369.10) scale(1.0000,1)" font-size="28.5" fill="#000">8</text>
<text transform="translate(449.75,1369.10) scale(0.8648,1)" font-size="28.5" fill="#000">12</text>
<line x1="137.70" y1="1300.40" x2="528.40" y2="1300.40" stroke="#000" stroke-width="2.0"/>
<polygon points="537.40,1300.40 525.60,1295.50 527.80,1300.40 525.60,1305.30" fill="#000"/>
<line x1="137.70" y1="1263.50" x2="137.70" y2="1336.70" stroke="#000" stroke-width="2.0"/>
<line x1="298.30" y1="1263.50" x2="298.30" y2="1336.70" stroke="#000" stroke-width="2.0"/>
<line x1="462.70" y1="1263.50" x2="462.70" y2="1336.70" stroke="#000" stroke-width="2.0"/>
<path d="M464.3,1212.0 C466.3,1224.0 477.0,1235.0 477.0,1240.5 A12.7,12.7 0 0 1 451.6,1240.5 C451.6,1235.0 462.3,1224.0 464.3,1212.0 Z" fill="#c00a0a"/>
<text transform="translate(565.16,1098.20) scale(1.1312,1)" font-size="38.5" font-weight="bold" fill="#000" stroke="#000" stroke-width="1.4" stroke-linejoin="round">j</text>
<line x1="589.80" y1="1161.20" x2="623.40" y2="1161.20" stroke="#000" stroke-width="1.4"/>
<circle cx="606.80" cy="1161.20" r="4.8" fill="#000"/>
<line x1="589.80" y1="1202.10" x2="623.40" y2="1202.10" stroke="#0a32ff" stroke-width="1.4"/>
<polygon points="602.10,1206.80 611.50,1206.80 606.80,1197.40" fill="#0a32ff"/>
<line x1="589.80" y1="1242.30" x2="623.40" y2="1242.30" stroke="#ff2a00" stroke-width="1.4"/>
<polygon points="602.10,1242.30 606.80,1237.60 611.50,1242.30 606.80,1247.00" fill="#ff2a00"/>
<text transform="translate(633.84,1169.30) scale(1.1249,1)" font-size="22.0" fill="#000">Untreated</text>
<text transform="translate(634.27,1209.80) scale(1.0000,1)" font-size="22.0" fill="#000">hSTEAP1-mBBζ + NFAT-IL-12</text>
<text transform="translate(634.26,1251.10) scale(1.0058,1)" font-size="22.0" fill="#000">hSTEAP1-mBBζ + NFAT-CBD-IL-12</text>
<polyline points="999.9,1151.9 1015.3,1151.9 1015.3,1194.0 999.9,1194.0" fill="none" stroke="#000" stroke-width="1.6"/>
<polyline points="999.9,1204.0 1015.3,1204.0 1015.3,1246.1 999.9,1246.1" fill="none" stroke="#000" stroke-width="1.6"/>
<polyline points="1099.5,1150.7 1115.7,1150.7 1115.7,1246.5 1099.5,1246.5" fill="none" stroke="#000" stroke-width="1.6"/>
<text transform="translate(1020.10,1179.70) scale(1.0924,1)" font-size="23.5" fill="#000">0.0019</text>
<text transform="translate(1020.10,1231.00) scale(1.0906,1)" font-size="23.5" fill="#000">0.9763</text>
<text transform="translate(1119.82,1206.00) scale(1.0678,1)" font-size="23.5" fill="#000">0.0016</text>
<line x1="684.20" y1="1278.40" x2="684.20" y2="1579.60" stroke="#262626" stroke-width="1.4"/>
<line x1="672.20" y1="1578.90" x2="684.20" y2="1578.90" stroke="#262626" stroke-width="1.4"/>
<text transform="translate(646.15,1586.40) scale(1.1494,1)" font-size="23.5" fill="#000">0</text>
<line x1="672.20" y1="1478.73" x2="684.20" y2="1478.73" stroke="#262626" stroke-width="1.4"/>
<text transform="translate(616.87,1486.23) scale(1.1312,1)" font-size="23.5" fill="#000">200</text>
<line x1="672.20" y1="1378.57" x2="684.20" y2="1378.57" stroke="#262626" stroke-width="1.4"/>
<text transform="translate(616.67,1386.07) scale(1.1365,1)" font-size="23.5" fill="#000">400</text>
<line x1="672.20" y1="1278.40" x2="684.20" y2="1278.40" stroke="#262626" stroke-width="1.4"/>
<text transform="translate(615.74,1285.90) scale(1.1608,1)" font-size="23.5" fill="#000">600</text>
<line x1="672.20" y1="1578.90" x2="984.70" y2="1578.90" stroke="#262626" stroke-width="1.4"/>
<line x1="684.20" y1="1578.90" x2="684.20" y2="1590.90" stroke="#262626" stroke-width="1.4"/>
<text transform="translate(676.70,1619.80) scale(1.1494,1)" font-size="23.5" fill="#000">0</text>
<line x1="759.33" y1="1578.90" x2="759.33" y2="1590.90" stroke="#262626" stroke-width="1.4"/>
<text transform="translate(752.43,1619.80) scale(1.0571,1)" font-size="23.5" fill="#000">5</text>
<line x1="834.45" y1="1578.90" x2="834.45" y2="1590.90" stroke="#262626" stroke-width="1.4"/>
<text transform="translate(820.82,1619.80) scale(1.0085,1)" font-size="23.5" fill="#000">10</text>
<line x1="909.58" y1="1578.90" x2="909.58" y2="1590.90" stroke="#262626" stroke-width="1.4"/>
<text transform="translate(897.32,1619.80) scale(0.9109,1)" font-size="23.5" fill="#000">15</text>
<line x1="984.70" y1="1578.90" x2="984.70" y2="1590.90" stroke="#262626" stroke-width="1.4"/>
<text transform="translate(970.49,1619.80) scale(1.0752,1)" font-size="23.5" fill="#000">20</text>
<polyline points="684.20,1578.90 804.40,1547.85 864.50,1509.48 894.55,1533.32 924.60,1555.51" fill="none" stroke="#ff2a00" stroke-width="1.4"/>
<polyline points="684.20,1578.90 804.40,1556.36 864.50,1537.83 894.55,1547.85 924.60,1561.37" fill="none" stroke="#ff2a00" stroke-width="1.4"/>
<polyline points="684.20,1578.90 804.40,1557.87 864.50,1540.19 894.55,1555.86 924.60,1565.38" fill="none" stroke="#ff2a00" stroke-width="1.4"/>
<polyline points="684.20,1578.90 804.40,1559.87 864.50,1541.34 894.55,1564.88 924.60,1568.88" fill="none" stroke="#ff2a00" stroke-width="1.4"/>
<polygon points="679.50,1578.90 684.20,1574.00 688.90,1578.90 684.20,1583.80" fill="#ff2a00"/>
<polygon points="799.70,1547.85 804.40,1542.95 809.10,1547.85 804.40,1552.75" fill="#ff2a00"/>
<polygon points="859.80,1509.48 864.50,1504.58 869.20,1509.48 864.50,1514.38" fill="#ff2a00"/>
<polygon points="889.85,1533.32 894.55,1528.42 899.25,1533.32 894.55,1538.22" fill="#ff2a00"/>
<polygon points="919.90,1555.51 924.60,1550.61 929.30,1555.51 924.60,1560.41" fill="#ff2a00"/>
<polygon points="679.50,1578.90 684.20,1574.00 688.90,1578.90 684.20,1583.80" fill="#ff2a00"/>
<polygon points="799.70,1556.36 804.40,1551.46 809.10,1556.36 804.40,1561.26" fill="#ff2a00"/>
<polygon points="859.80,1537.83 864.50,1532.93 869.20,1537.83 864.50,1542.73" fill="#ff2a00"/>
<polygon points="889.85,1547.85 894.55,1542.95 899.25,1547.85 894.55,1552.75" fill="#ff2a00"/>
<polygon points="919.90,1561.37 924.60,1556.47 929.30,1561.37 924.60,1566.27" fill="#ff2a00"/>
<polygon points="679.50,1578.90 684.20,1574.00 688.90,1578.90 684.20,1583.80" fill="#ff2a00"/>
<polygon points="799.70,1557.87 804.40,1552.96 809.10,1557.87 804.40,1562.77" fill="#ff2a00"/>
<polygon points="859.80,1540.19 864.50,1535.29 869.20,1540.19 864.50,1545.09" fill="#ff2a00"/>
<polygon points="889.85,1555.86 894.55,1550.96 899.25,1555.86 894.55,1560.76" fill="#ff2a00"/>
<polygon points="919.90,1565.38 924.60,1560.48 929.30,1565.38 924.60,1570.28" fill="#ff2a00"/>
<polygon points="679.50,1578.90 684.20,1574.00 688.90,1578.90 684.20,1583.80" fill="#ff2a00"/>
<polygon points="799.70,1559.87 804.40,1554.97 809.10,1559.87 804.40,1564.77" fill="#ff2a00"/>
<polygon points="859.80,1541.34 864.50,1536.44 869.20,1541.34 864.50,1546.24" fill="#ff2a00"/>
<polygon points="889.85,1564.88 894.55,1559.98 899.25,1564.88 894.55,1569.78" fill="#ff2a00"/>
<polygon points="919.90,1568.88 924.60,1563.98 929.30,1568.88 924.60,1573.78" fill="#ff2a00"/>
<polyline points="684.20,1578.90 804.40,1548.85 864.50,1518.80 894.55,1512.89 924.60,1543.59" fill="none" stroke="#0a32ff" stroke-width="1.4"/>
<polyline points="684.20,1578.90 804.40,1550.35 864.50,1520.30 894.55,1531.62 924.60,1558.87" fill="none" stroke="#0a32ff" stroke-width="1.4"/>
<polyline points="684.20,1578.90 804.40,1560.62 864.50,1534.33 894.55,1543.09 924.60,1562.37" fill="none" stroke="#0a32ff" stroke-width="1.4"/>
<polyline points="684.20,1578.90 804.40,1563.98 864.50,1547.00 894.55,1551.20 924.60,1566.38" fill="none" stroke="#0a32ff" stroke-width="1.4"/>
<polygon points="679.50,1583.60 688.90,1583.60 684.20,1574.20" fill="#0a32ff"/>
<polygon points="799.70,1553.55 809.10,1553.55 804.40,1544.15" fill="#0a32ff"/>
<polygon points="859.80,1523.50 869.20,1523.50 864.50,1514.10" fill="#0a32ff"/>
<polygon points="889.85,1517.59 899.25,1517.59 894.55,1508.19" fill="#0a32ff"/>
<polygon points="919.90,1548.29 929.30,1548.29 924.60,1538.89" fill="#0a32ff"/>
<polygon points="679.50,1583.60 688.90,1583.60 684.20,1574.20" fill="#0a32ff"/>
<polygon points="799.70,1555.05 809.10,1555.05 804.40,1545.65" fill="#0a32ff"/>
<polygon points="859.80,1525.00 869.20,1525.00 864.50,1515.60" fill="#0a32ff"/>
<polygon points="889.85,1536.32 899.25,1536.32 894.55,1526.92" fill="#0a32ff"/>
<polygon points="919.90,1563.57 929.30,1563.57 924.60,1554.17" fill="#0a32ff"/>
<polygon points="679.50,1583.60 688.90,1583.60 684.20,1574.20" fill="#0a32ff"/>
<polygon points="799.70,1565.32 809.10,1565.32 804.40,1555.92" fill="#0a32ff"/>
<polygon points="859.80,1539.03 869.20,1539.03 864.50,1529.63" fill="#0a32ff"/>
<polygon points="889.85,1547.79 899.25,1547.79 894.55,1538.39" fill="#0a32ff"/>
<polygon points="919.90,1567.07 929.30,1567.07 924.60,1557.67" fill="#0a32ff"/>
<polygon points="679.50,1583.60 688.90,1583.60 684.20,1574.20" fill="#0a32ff"/>
<polygon points="799.70,1568.68 809.10,1568.68 804.40,1559.28" fill="#0a32ff"/>
<polygon points="859.80,1551.70 869.20,1551.70 864.50,1542.30" fill="#0a32ff"/>
<polygon points="889.85,1555.90 899.25,1555.90 894.55,1546.50" fill="#0a32ff"/>
<polygon points="919.90,1571.08 929.30,1571.08 924.60,1561.68" fill="#0a32ff"/>
<polyline points="684.20,1578.90 804.40,1524.31 864.50,1437.31 894.55,1372.56 924.60,1294.93" fill="none" stroke="#000" stroke-width="1.4"/>
<polyline points="684.20,1578.90 804.40,1536.33 864.50,1479.23 894.55,1387.08 924.60,1294.93" fill="none" stroke="#000" stroke-width="1.4"/>
<polyline points="684.20,1578.90 804.40,1544.34 864.50,1488.40 894.55,1436.31 924.60,1338.50" fill="none" stroke="#000" stroke-width="1.4"/>
<polyline points="684.20,1578.90 804.40,1551.86 864.50,1517.00 894.55,1475.08 924.60,1427.40" fill="none" stroke="#000" stroke-width="1.4"/>
<circle cx="684.20" cy="1578.90" r="5.2" fill="#000"/>
<circle cx="804.40" cy="1524.31" r="5.2" fill="#000"/>
<circle cx="864.50" cy="1437.31" r="5.2" fill="#000"/>
<circle cx="894.55" cy="1372.56" r="5.2" fill="#000"/>
<circle cx="924.60" cy="1294.93" r="5.2" fill="#000"/>
<circle cx="684.20" cy="1578.90" r="5.2" fill="#000"/>
<circle cx="804.40" cy="1536.33" r="5.2" fill="#000"/>
<circle cx="864.50" cy="1479.23" r="5.2" fill="#000"/>
<circle cx="894.55" cy="1387.08" r="5.2" fill="#000"/>
<circle cx="924.60" cy="1294.93" r="5.2" fill="#000"/>
<circle cx="684.20" cy="1578.90" r="5.2" fill="#000"/>
<circle cx="804.40" cy="1544.34" r="5.2" fill="#000"/>
<circle cx="864.50" cy="1488.40" r="5.2" fill="#000"/>
<circle cx="894.55" cy="1436.31" r="5.2" fill="#000"/>
<circle cx="924.60" cy="1338.50" r="5.2" fill="#000"/>
<circle cx="684.20" cy="1578.90" r="5.2" fill="#000"/>
<circle cx="804.40" cy="1551.86" r="5.2" fill="#000"/>
<circle cx="864.50" cy="1517.00" r="5.2" fill="#000"/>
<circle cx="894.55" cy="1475.08" r="5.2" fill="#000"/>
<circle cx="924.60" cy="1427.40" r="5.2" fill="#000"/>
<text transform="translate(717.99,1663.80) scale(1.0240,1)" font-size="27.3" fill="#000">Days since tumour</text>
<text transform="translate(765.20,1693.20) scale(1.0640,1)" font-size="27.3" fill="#000">inoculation</text>
<text transform="translate(592.60,1570.50) rotate(-90) scale(1.0562,1) translate(-0.55,0)" fill="#000"><tspan font-size="27.3" dy="0.00">Tumour volume (mm</tspan><tspan font-size="17.47" dy="-12.56">3</tspan><tspan font-size="27.3" dy="12.56">)</tspan></text>
<text transform="translate(1294.63,1098.30) scale(1.0363,1)" font-size="38.5" font-weight="bold" fill="#000" stroke="#000" stroke-width="1.4" stroke-linejoin="round">k</text>
<text transform="translate(1391.23,1110.90) scale(0.9484,1)" font-size="27.3" fill="#000">MyC-CaP-hSTEAP1</text>
<line x1="1409.00" y1="1137.80" x2="1409.00" y2="1438.70" stroke="#262626" stroke-width="1.4"/>
<line x1="1397.00" y1="1438.00" x2="1409.00" y2="1438.00" stroke="#262626" stroke-width="1.4"/>
<text transform="translate(1371.10,1445.50) scale(1.1494,1)" font-size="23.5" fill="#000">0</text>
<line x1="1397.00" y1="1362.95" x2="1409.00" y2="1362.95" stroke="#262626" stroke-width="1.4"/>
<text transform="translate(1344.48,1370.45) scale(1.0618,1)" font-size="23.5" fill="#000">100</text>
<line x1="1397.00" y1="1287.90" x2="1409.00" y2="1287.90" stroke="#262626" stroke-width="1.4"/>
<text transform="translate(1341.82,1295.40) scale(1.1312,1)" font-size="23.5" fill="#000">200</text>
<line x1="1397.00" y1="1212.85" x2="1409.00" y2="1212.85" stroke="#262626" stroke-width="1.4"/>
<text transform="translate(1342.23,1220.35) scale(1.1205,1)" font-size="23.5" fill="#000">300</text>
<line x1="1397.00" y1="1137.80" x2="1409.00" y2="1137.80" stroke="#262626" stroke-width="1.4"/>
<text transform="translate(1341.62,1145.30) scale(1.1365,1)" font-size="23.5" fill="#000">400</text>
<line x1="1397.00" y1="1438.00" x2="1608.80" y2="1438.00" stroke="#262626" stroke-width="1.4"/>
<line x1="1465.90" y1="1438.00" x2="1465.90" y2="1450.00" stroke="#262626" stroke-width="1.4"/>
<line x1="1551.90" y1="1438.00" x2="1551.90" y2="1450.00" stroke="#262626" stroke-width="1.4"/>
<path d="M1438.50,1438.00 V1247.60 H1493.30 V1438.00" fill="none" stroke="#0a32ff" stroke-width="1.35"/>
<line x1="1465.90" y1="1265.91" x2="1465.90" y2="1228.01" stroke="#0a32ff" stroke-width="1.35"/>
<line x1="1451.60" y1="1228.01" x2="1480.20" y2="1228.01" stroke="#0a32ff" stroke-width="1.35"/>
<line x1="1451.60" y1="1265.91" x2="1480.20" y2="1265.91" stroke="#0a32ff" stroke-width="1.35"/>
<polygon points="1461.20,1206.72 1470.60,1206.72 1465.90,1196.92" fill="#0a32ff"/>
<polygon points="1461.20,1235.01 1470.60,1235.01 1465.90,1225.21" fill="#0a32ff"/>
<polygon points="1452.60,1283.79 1462.00,1283.79 1457.30,1273.99" fill="#0a32ff"/>
<polygon points="1470.10,1283.04 1479.50,1283.04 1474.80,1273.24" fill="#0a32ff"/>
<path d="M1524.50,1438.00 V1355.22 H1579.30 V1438.00" fill="none" stroke="#ff2a00" stroke-width="1.35"/>
<line x1="1551.90" y1="1362.95" x2="1551.90" y2="1345.99" stroke="#ff2a00" stroke-width="1.35"/>
<line x1="1537.60" y1="1345.99" x2="1566.20" y2="1345.99" stroke="#ff2a00" stroke-width="1.35"/>
<line x1="1537.60" y1="1362.95" x2="1566.20" y2="1362.95" stroke="#ff2a00" stroke-width="1.35"/>
<polygon points="1538.00,1341.64 1542.70,1336.64 1547.40,1341.64 1542.70,1346.64" fill="#ff2a00"/>
<polygon points="1556.30,1339.68 1561.00,1334.68 1565.70,1339.68 1561.00,1344.68" fill="#ff2a00"/>
<polygon points="1547.20,1359.95 1551.90,1354.95 1556.60,1359.95 1551.90,1364.95" fill="#ff2a00"/>
<polygon points="1547.20,1376.61 1551.90,1371.61 1556.60,1376.61 1551.90,1381.61" fill="#ff2a00"/>
<text transform="translate(1467.05,1162.40) scale(1.1570,1)" font-size="23.5" fill="#000">0.0060</text>
<line x1="1465.70" y1="1169.70" x2="1552.40" y2="1169.70" stroke="#000" stroke-width="1.4"/>
<text transform="translate(1320.00,1419.20) rotate(-90) scale(1.0013,1) translate(-1.23,0)" fill="#000"><tspan font-size="27.3" dy="0.00">Serum IL-12 (pg ml</tspan><tspan font-size="17.47" dy="-12.56">−1</tspan><tspan font-size="27.3" dy="12.56">)</tspan></text>
<text transform="translate(1470.3,1475.3) rotate(-45) scale(0.95,1) translate(-363.56,0)" font-size="27.0" fill="#000">hSTEAP1-mBBζ + NFAT-IL-12</text>
<text transform="translate(1559.3,1475.8) rotate(-45) scale(0.95,1) translate(-429.57,0)" font-size="27.0" fill="#000">hSTEAP1-mBBζ + NFAT-CBD-IL-12</text>
</svg>
</body></html>
